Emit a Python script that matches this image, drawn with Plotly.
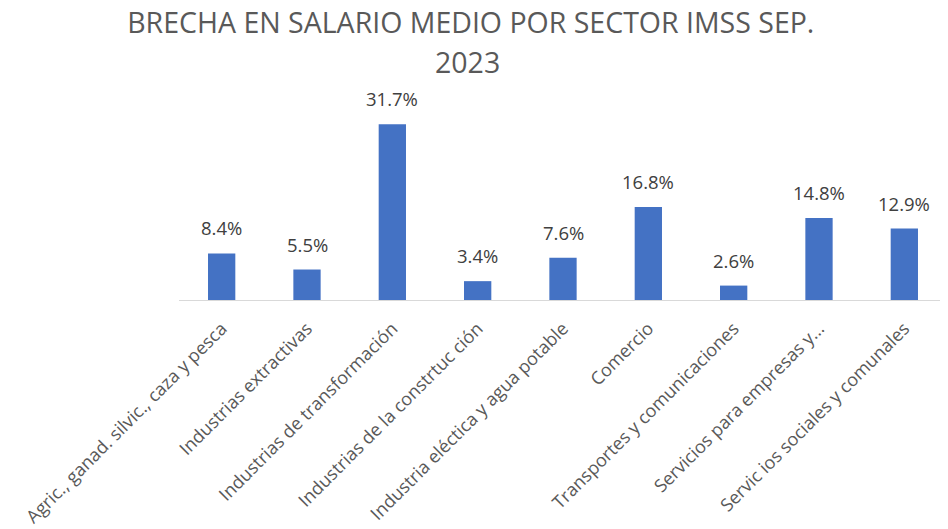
import plotly.graph_objects as go

title_line1 = "BRECHA EN SALARIO MEDIO POR SECTOR IMSS SEP."
title_line2 = "2023"
categories = [
    "Agric., ganad. silvic., caza y pesca",
    "Industrias extractivas",
    "Industrias de transformación",
    "Industrias de la constrtuc ción",
    "Industria eléctica y agua potable",
    "Comercio",
    "Transportes y comunicaciones",
    "Servicios para empresas y...",
    "Servic ios sociales y comunales",
]
values = [8.4, 5.5, 31.7, 3.4, 7.6, 16.8, 2.6, 14.8, 12.9]
labels = [f"{v:.1f}%" for v in values]

fig = go.Figure(go.Bar(
    x=categories, y=values,
    marker=dict(color="#4472C4", line=dict(width=0)),
    hoverinfo="x+y",
))
for c, v, t in zip(categories, values, labels):
    fig.add_annotation(x=c, y=v, text=t, showarrow=False, yanchor="bottom",
                       yshift=11, font=dict(size=18.5, color="#404040", family="Open Sans"))
fig.add_annotation(x=0.376, xref="paper", y=1.229, yref="paper", text=title_line2,
                   showarrow=False, xanchor="center", yanchor="middle",
                   font=dict(size=28.5, color="#595959", family="Open Sans"))
fig.update_layout(
    width=940, height=521,
    paper_bgcolor="white", plot_bgcolor="white",
    margin=dict(l=171, r=1, t=98, b=229),
    bargap=0.68,
    title=dict(text=title_line1,
               x=0.4923, xanchor="center", y=0.971, yanchor="middle",
               font=dict(size=28.5, color="#595959", family="Open Sans")),
    showlegend=False,
    font=dict(family="Open Sans", color="#595959"),
)
fig.update_xaxes(tickangle=-45, tickfont=dict(size=18, color="#595959"), automargin=False,
                 ticklabelstandoff=10,
                 showline=True, linecolor="#D9D9D9", linewidth=1, ticks="", showgrid=False)
fig.update_yaxes(visible=False, range=[0, 35], automargin=False)
fig.write_html("out.html")
